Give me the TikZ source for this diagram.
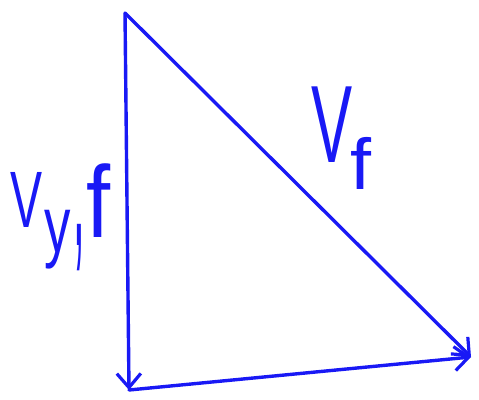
\documentclass[tikz,border=0pt]{standalone}
\usepackage{fontspec}
\setmainfont{Liberation Sans}
\usetikzlibrary{arrows.meta}
\definecolor{ink}{RGB}{25,25,245}
\tikzset{
  vec/.style={draw=ink, line width=3.4pt, line cap=round, line join=round,
    -{Straight Barb[length=14pt,width=24pt,line width=3.2pt]}},
  hand/.style={text=ink, inner sep=0pt, anchor=base west}
}
\begin{document}
\begin{tikzpicture}[x=1pt,y=1pt]
\useasboundingbox (0,0) rectangle (479,399);
\coordinate (A) at (125,386);
\coordinate (B) at (129,9);
\coordinate (C) at (471,42);
\draw[vec] (A) -- (B);
\draw[vec] (A) -- (C);
\draw[vec] (B) -- (C);
\node[hand, font=\fontsize{80}{80}\selectfont, xscale=0.6] (vyV) at (10,171) {V};
\node[hand, font=\fontsize{80}{80}\selectfont, xscale=0.66] (vyy) at (44,146) {y};
\node[hand, font=\fontsize{110}{110}\selectfont, xscale=0.38, yscale=1.8] (vyc) at (73,153) {,};
\node[hand, font=\fontsize{102}{102}\selectfont, xscale=0.85] (vyf) at (86,161) {f};
\node[hand, font=\fontsize{110}{110}\selectfont, xscale=0.56] (vfV) at (311,236) {V};
\node[hand, font=\fontsize{72}{72}\selectfont, xscale=1.05] (vff) at (350,209) {f};
\end{tikzpicture}
\end{document}
